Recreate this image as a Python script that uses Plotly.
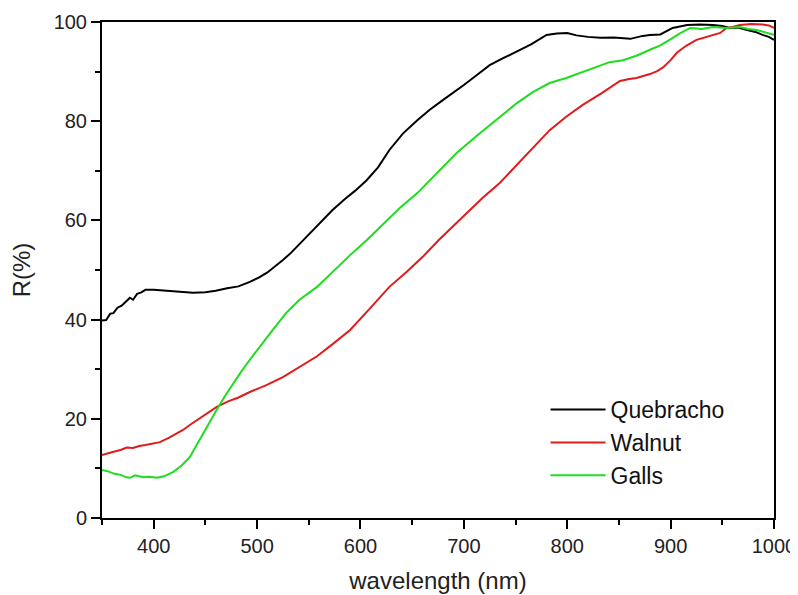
import plotly.graph_objects as go

# Quebracho (black)
q_x = [350, 354, 358, 361, 365, 369, 373, 377, 380, 384, 388, 392, 400, 413, 425, 438, 450, 460, 471, 482, 493, 502, 510, 517, 525, 533, 541, 551, 562, 573, 585, 595, 606, 617, 628, 641, 655, 667, 680, 687, 700, 712, 725, 738, 751, 765, 780, 790, 800, 809, 820, 832, 845, 861, 873, 880, 890, 902, 916, 928, 941, 950, 957, 965, 974, 982, 989, 995, 1000]
q_y = [39.8, 39.9, 41.2, 41.3, 42.4, 42.8, 43.6, 44.4, 44.0, 45.2, 45.5, 46.0, 46.0, 45.8, 45.7, 45.4, 45.5, 45.8, 46.3, 46.7, 47.6, 48.5, 49.5, 50.6, 52.0, 53.5, 55.2, 57.5, 59.8, 62.1, 64.3, 66.0, 68.1, 70.7, 74.2, 77.5, 80.2, 82.3, 84.3, 85.3, 87.3, 89.2, 91.3, 92.7, 94.0, 95.5, 97.4, 97.7, 97.8, 97.3, 97.0, 96.8, 96.9, 96.6, 97.2, 97.4, 97.5, 98.8, 99.4, 99.5, 99.4, 99.2, 98.8, 98.9, 98.4, 98.0, 97.4, 97.0, 96.4]

# Walnut (red)
w_x = [350, 356, 362, 368, 374, 380, 386, 392, 398, 406, 415, 428, 436, 445, 453, 461, 472, 482, 493, 509, 525, 541, 558, 574, 590, 609, 628, 644, 660, 676, 693, 706, 718, 735, 751, 767, 783, 799, 815, 833, 851, 860, 867, 880, 887, 893, 900, 906, 915, 925, 936, 948, 954, 960, 967, 978, 989, 995, 1000]
w_y = [12.7, 13.1, 13.4, 13.7, 14.2, 14.1, 14.5, 14.7, 15.0, 15.3, 16.2, 17.7, 18.9, 20.1, 21.3, 22.4, 23.5, 24.3, 25.4, 26.8, 28.4, 30.4, 32.6, 35.2, 37.9, 42.2, 46.6, 49.5, 52.6, 56.1, 59.5, 62.2, 64.5, 67.6, 71.2, 74.7, 78.2, 80.9, 83.3, 85.6, 88.1, 88.5, 88.7, 89.5, 90.1, 90.9, 92.3, 93.8, 95.2, 96.4, 97.1, 97.8, 98.8, 99.0, 99.4, 99.6, 99.5, 99.3, 98.8]

# Galls (green)
g_x = [350, 356, 362, 368, 374, 377, 382, 390, 396, 403, 410, 419, 427, 435, 441, 448, 454, 461, 469, 477, 485, 493, 504, 515, 528, 541, 558, 574, 590, 606, 622, 638, 655, 674, 693, 714, 735, 751, 767, 783, 799, 815, 828, 841, 854, 867, 880, 890, 899, 909, 919, 930, 941, 954, 967, 975, 983, 991, 1000]
g_y = [9.7, 9.4, 8.9, 8.7, 8.2, 8.1, 8.6, 8.2, 8.3, 8.1, 8.4, 9.3, 10.6, 12.3, 14.5, 17.1, 19.5, 21.8, 24.6, 27.2, 29.6, 31.9, 35.0, 37.9, 41.3, 44.0, 46.6, 49.9, 53.0, 56.0, 59.3, 62.5, 65.5, 69.5, 73.6, 77.3, 80.9, 83.6, 85.9, 87.7, 88.7, 89.9, 90.9, 91.9, 92.3, 93.2, 94.4, 95.3, 96.4, 97.7, 98.8, 98.6, 99.0, 98.8, 99.0, 98.6, 98.4, 98.0, 97.4]

series = [
    ("Quebracho", q_x, q_y, "#000000"),
    ("Walnut", w_x, w_y, "#e01b1b"),
    ("Galls", g_x, g_y, "#1edc1e"),
]

fig = go.Figure()
for name, xs, ys, col in series:
    fig.add_trace(go.Scatter(x=xs, y=ys, mode="lines", name=name,
                             line=dict(color=col, width=2)))

font_family = "Liberation Sans, Arial, sans-serif"
axis_common = dict(
    showline=True, linecolor="black", linewidth=2, mirror=True,
    ticks="outside", ticklen=9, tickwidth=2, tickcolor="black",
    showgrid=False, zeroline=False, automargin=False,
    tickfont=dict(family=font_family, size=20, color="#222"),
)

fig.update_xaxes(range=[350, 1000], dtick=100, tick0=400,
                 minor=dict(ticks="outside", ticklen=5, tickwidth=2, tickcolor="black", dtick=50, tick0=350),
                 title=dict(text="wavelength (nm)", font=dict(family=font_family, size=24, color="#222"), standoff=16),
                 **axis_common)
fig.update_yaxes(range=[0, 100], dtick=20,
                 minor=dict(ticks="outside", ticklen=5, tickwidth=2, tickcolor="black", dtick=10),
                 title=dict(text="R(%)", font=dict(family=font_family, size=24, color="#222"), standoff=19),
                 **axis_common)

# page body has an 8px default margin, so the figure is sized to fit inside it
fig.update_layout(
    width=790, height=587,
    margin=dict(l=94, r=24, t=14, b=77),
    paper_bgcolor="white", plot_bgcolor="white",
    showlegend=True,
    legend=dict(x=0.66, y=0.262, xanchor="left", yanchor="top",
                font=dict(family=font_family, size=23, color="#111"),
                bgcolor="rgba(0,0,0,0)", itemwidth=55, tracegroupgap=0),
)

fig.write_html("out.html")
